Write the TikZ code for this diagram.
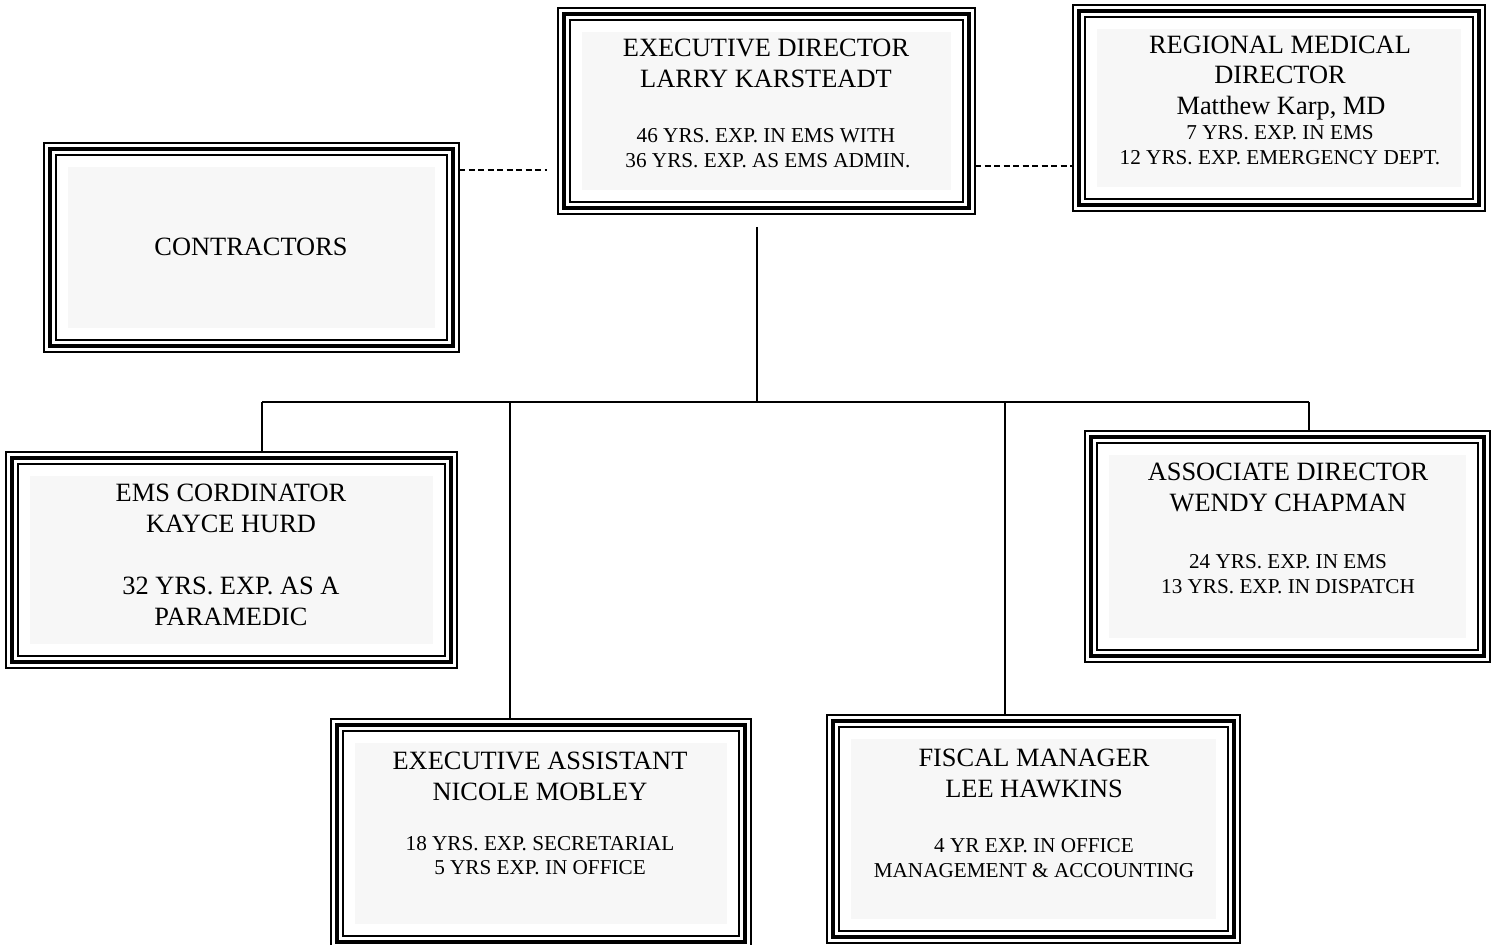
\documentclass[tikz,border=0pt]{standalone}
\usepackage{fontspec}
\setmainfont{Liberation Serif}
\usetikzlibrary{fit}
\tikzset{
  thinline/.style={line width=1pt},
  thickline/.style={line width=2.4pt},
  boxfill/.style={fill=black!3},
  frame/.style={inner sep=0pt, outer sep=0pt},
  big/.style={font=\fontsize{13.2}{15.5}\selectfont, inner sep=0pt, anchor=base},
  small/.style={font=\fontsize{10.6}{12.5}\selectfont, inner sep=0pt, anchor=base},
  conn/.style={line width=1pt},
  dconn/.style={line width=1pt, dash pattern=on 3pt off 1.75pt},
}
\newcommand{\tribox}[5]{%
  \fill[boxfill] ({#2+24},{#3+24}) rectangle ({#4-24},{#5-24});
  \draw[thinline] (#2,#3) rectangle (#4,#5);
  \draw[thickline] ({#2+6},{#3+6}) rectangle ({#4-6},{#5-6});
  \draw[thinline] ({#2+12},{#3+12}) rectangle ({#4-12},{#5-12});
  \node[frame, fit={(#2,#3)(#4,#5)}] (#1) {};
}
\begin{document}
\begin{tikzpicture}[x=0.5pt, y=-0.5pt]
\useasboundingbox (0,0) rectangle (1497,945);
\fill[white] (0,0) rectangle (1497,945);

% boxes
\tribox{exec}{558}{8}{975}{214}
\tribox{regional}{1073}{5}{1485}{211}
\tribox{contr}{44}{143}{459}{352}
\tribox{ems}{6}{452}{457}{668}
\tribox{assoc}{1085}{431}{1490}{662}
\tribox{asst}{331}{719}{751}{948}
\tribox{fiscal}{827}{715}{1240}{943}

% texts
\node[big] (t1a) at (766,57) {EXECUTIVE DIRECTOR};
\node[big] (t1b) at (766,88) {LARRY KARSTEADT};
\node[small] (t1c) at (766,143) {46 YRS. EXP. IN EMS WITH};
\node[small] (t1d) at (768,168) {36 YRS. EXP. AS EMS ADMIN.};

\node[big] (t2a) at (1280,54) {REGIONAL MEDICAL};
\node[big] (t2b) at (1280,84) {DIRECTOR};
\node[big] (t2c) at (1281,115) {Matthew Karp, MD};
\node[small] (t2d) at (1280,140) {7 YRS. EXP. IN EMS};
\node[small] (t2e) at (1280,165) {12 YRS. EXP. EMERGENCY DEPT.};

\node[big] (t3a) at (251,256) {CONTRACTORS};

\node[big] (t4a) at (231,502) {EMS CORDINATOR};
\node[big] (t4b) at (231,533) {KAYCE HURD};
\node[big] (t4c) at (231,595) {32 YRS. EXP. AS A};
\node[big] (t4d) at (231,625) {PARAMEDIC};

\node[big] (t5a) at (1288,481) {ASSOCIATE DIRECTOR};
\node[big] (t5b) at (1288,512) {WENDY CHAPMAN};
\node[small] (t5c) at (1288,568) {24 YRS. EXP. IN EMS};
\node[small] (t5d) at (1288,593) {13 YRS. EXP. IN DISPATCH};

\node[big] (t6a) at (540,769) {EXECUTIVE ASSISTANT};
\node[big] (t6b) at (540,800) {NICOLE MOBLEY};
\node[small] (t6c) at (540,850) {18 YRS. EXP. SECRETARIAL};
\node[small] (t6d) at (540,874) {5 YRS EXP. IN OFFICE};

\node[big] (t7a) at (1034,766) {FISCAL MANAGER};
\node[big] (t7b) at (1034,797) {LEE HAWKINS};
\node[small] (t7c) at (1034,852) {4 YR EXP. IN OFFICE};
\node[small] (t7d) at (1034,877) {MANAGEMENT \& ACCOUNTING};

% connectors
\coordinate (lcut) at (547,170);
\draw[dconn] (lcut -| contr.east) -- (lcut);
\coordinate (rmid) at (1020,166);
\draw[dconn] (rmid -| exec.east) -- (rmid -| regional.west);

\coordinate (stem) at (757,227);
\coordinate (bus) at (757,402);
\coordinate (busL) at (262,402);
\coordinate (busA) at (510,402);
\coordinate (busF) at (1005,402);
\coordinate (busR) at (1309,402);
\draw[conn] (stem) -- (bus);
\draw[conn] (busL) -- (busR);
\draw[conn] (busL) -- (busL |- ems.north);
\draw[conn] (busA) -- (busA |- asst.north);
\draw[conn] (busF) -- (busF |- fiscal.north);
\draw[conn] (busR) -- (busR |- assoc.north);
\end{tikzpicture}
\end{document}
